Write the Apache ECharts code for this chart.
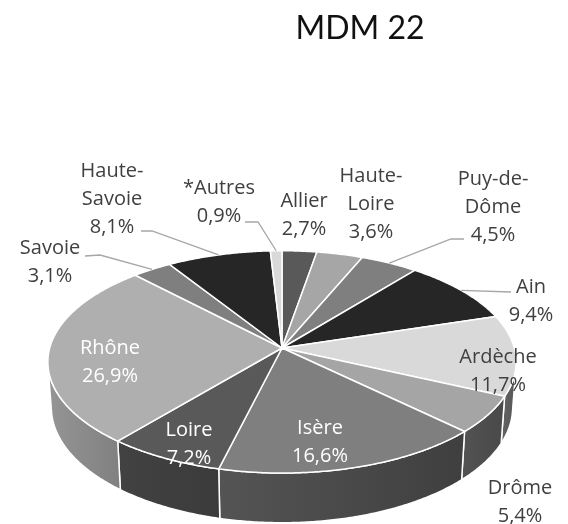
<!DOCTYPE html>
<html>
<head>
<meta charset="utf-8">
<script src="https://cdn.jsdelivr.net/npm/echarts@6/dist/echarts.min.js"></script>
<style>
  html, body { margin: 0; padding: 0; background: #fff; }
  #main { width: 568px; height: 524px; }
</style>
</head>
<body>
<div id="main"></div>
<script>
// data, clockwise from 12 o'clock
const categories = ['Allier', 'Haute-Loire', 'Puy-de-Dôme', 'Ain', 'Ardèche', 'Drôme', 'Isère', 'Loire', 'Rhône', 'Savoie', 'Haute-Savoie', '*Autres']
const values = [2.7, 3.6, 4.5, 9.4, 11.7, 5.4, 16.6, 7.2, 26.9, 3.1, 8.1, 0.9]

// styles / layout
const topColors = ['#595959', '#a6a6a6', '#7f7f7f', '#262626', '#d9d9d9', '#a5a5a5', '#7f7f7f', '#595959', '#afafaf', '#7f7f7f', '#262626', '#d9d9d9']
const labelColors = ['#404040', '#404040', '#404040', '#404040', '#404040', '#404040', '#fff', '#fff', '#fff', '#404040', '#404040', '#404040']
const labelPos = [[304, 215], [371, 204], [493, 207], [531, 301], [498, 371], [520, 502], [320, 442], [189, 444], [110, 362], [50, 262], [112, 199], [219, 202]]
// leader line elbows (label side), the pie side is computed from the slice
const leaders = [null, null, [[464, 239], [451, 239]], [[511, 292]], null, null, null, null, null, [[85, 256], [100, 255]], [[141, 231], [152, 231]], [[245, 222], [258, 222]]]

const view = { cx: 282, cy: 348, f: 1640, d: 7.06, tilt: 28.1 * Math.PI / 180, h: 0.225 }

const total = values.reduce((a, b) => a + b, 0)
const startAngle = []
const endAngle = []
let acc = 0
values.forEach(v => {
  startAngle.push(acc / total * Math.PI * 2)
  acc += v
  endAngle.push(acc / total * Math.PI * 2)
})

// 3d projection of a point of the unit disc (X right, Z back, Y up)
function projXZ(X, Z, Y) {
  const s = Math.sin(view.tilt), c = Math.cos(view.tilt)
  const yc = Y * c + Z * s
  const zc = view.d + Z * c - Y * s
  return [view.cx + view.f * X / zc, view.cy - view.f * yc / zc]
}
function proj(theta, Y) {
  return projXZ(Math.sin(theta), Math.cos(theta), Y)
}

// outer wall faces the camera only on the front part
const wallLimit = Math.acos(-1 / (view.d * Math.cos(view.tilt)))
const wallMin = wallLimit
const wallMax = Math.PI * 2 - wallLimit

function shade(hex, k) {
  const n = parseInt(hex.slice(1), 16)
  const r = Math.round(((n >> 16) & 255) * k)
  const g = Math.round(((n >> 8) & 255) * k)
  const b = Math.round((n & 255) * k)
  return 'rgb(' + r + ',' + g + ',' + b + ')'
}
function wallFactor(theta) {
  const deg = theta * 180 / Math.PI
  return 0.4 + 0.45 * (deg - 100) / 160
}

function pct(v) {
  return v.toFixed(1).replace('.', ',') + '%'
}
function labelText(name, v) {
  const k = name.lastIndexOf('-')
  const n = k > 0 ? name.slice(0, k + 1) + '\n' + name.slice(k + 1) : name
  return n + '\n' + pct(v)
}

function renderItem(params, api) {
  const i = params.dataIndex
  const v = api.value(0)
  const a0 = startAngle[i]
  const a1 = endAngle[i]
  const step = Math.PI / 360
  const children = []

  // top face
  const top = [projXZ(0, 0, 0)]
  for (let t = a0; t < a1; t += step) top.push(proj(t, 0))
  top.push(proj(a1, 0))
  children.push({
    type: 'polygon',
    shape: { points: top },
    style: { fill: topColors[i], stroke: '#fff', lineWidth: 1.5, lineJoin: 'round' },
    z2: 10
  })

  // outer wall
  const w0 = Math.max(a0, wallMin)
  const w1 = Math.min(a1, wallMax)
  if (w1 > w0) {
    const up = []
    const down = []
    for (let t = w0; t < w1; t += step) {
      up.push(proj(t, 0))
      down.push(proj(t, -view.h))
    }
    up.push(proj(w1, 0))
    down.push(proj(w1, -view.h))
    const pts = up.concat(down.reverse())
    const xr = proj(w0, 0)[0]
    const xl = proj(w1, 0)[0]
    children.push({
      type: 'polygon',
      shape: { points: pts },
      style: {
        fill: new echarts.graphic.LinearGradient(xl, 0, xr, 0, [
          { offset: 0, color: shade(topColors[i], wallFactor(w1)) },
          { offset: 1, color: shade(topColors[i], wallFactor(w0)) }
        ], true),
        stroke: '#fff',
        lineWidth: 1.5
      },
      z2: 1
    })
  }

  // leader line
  if (leaders[i]) {
    const mid = proj((a0 + a1) / 2, 0)
    children.push({
      type: 'polyline',
      shape: { points: leaders[i].concat([mid]) },
      style: { stroke: '#a6a6a6', lineWidth: 1.3, fill: null },
      z2: 15
    })
  }

  // label
  children.push({
    type: 'text',
    x: labelPos[i][0],
    y: labelPos[i][1],
    style: {
      text: labelText(categories[i], v),
      fill: labelColors[i],
      fontSize: 20,
      fontFamily: 'Open Sans',
      lineHeight: 28,
      align: 'center',
      verticalAlign: 'middle'
    },
    z2: 20
  })

  return { type: 'group', children }
}

const chart = echarts.init(document.getElementById('main'))
chart.setOption({
  animation: false,
  title: {
    text: 'MDM 22',
    left: 355,
    top: 8,
    textAlign: 'center',
    textStyle: { fontFamily: 'Lato', fontSize: 32, fontWeight: 'normal', color: '#111' }
  },
  series: [{
    type: 'custom',
    coordinateSystem: 'none',
    renderItem: renderItem,
    data: values.map((v, i) => ({ name: categories[i], value: v }))
  }]
})
</script>
</body>
</html>
